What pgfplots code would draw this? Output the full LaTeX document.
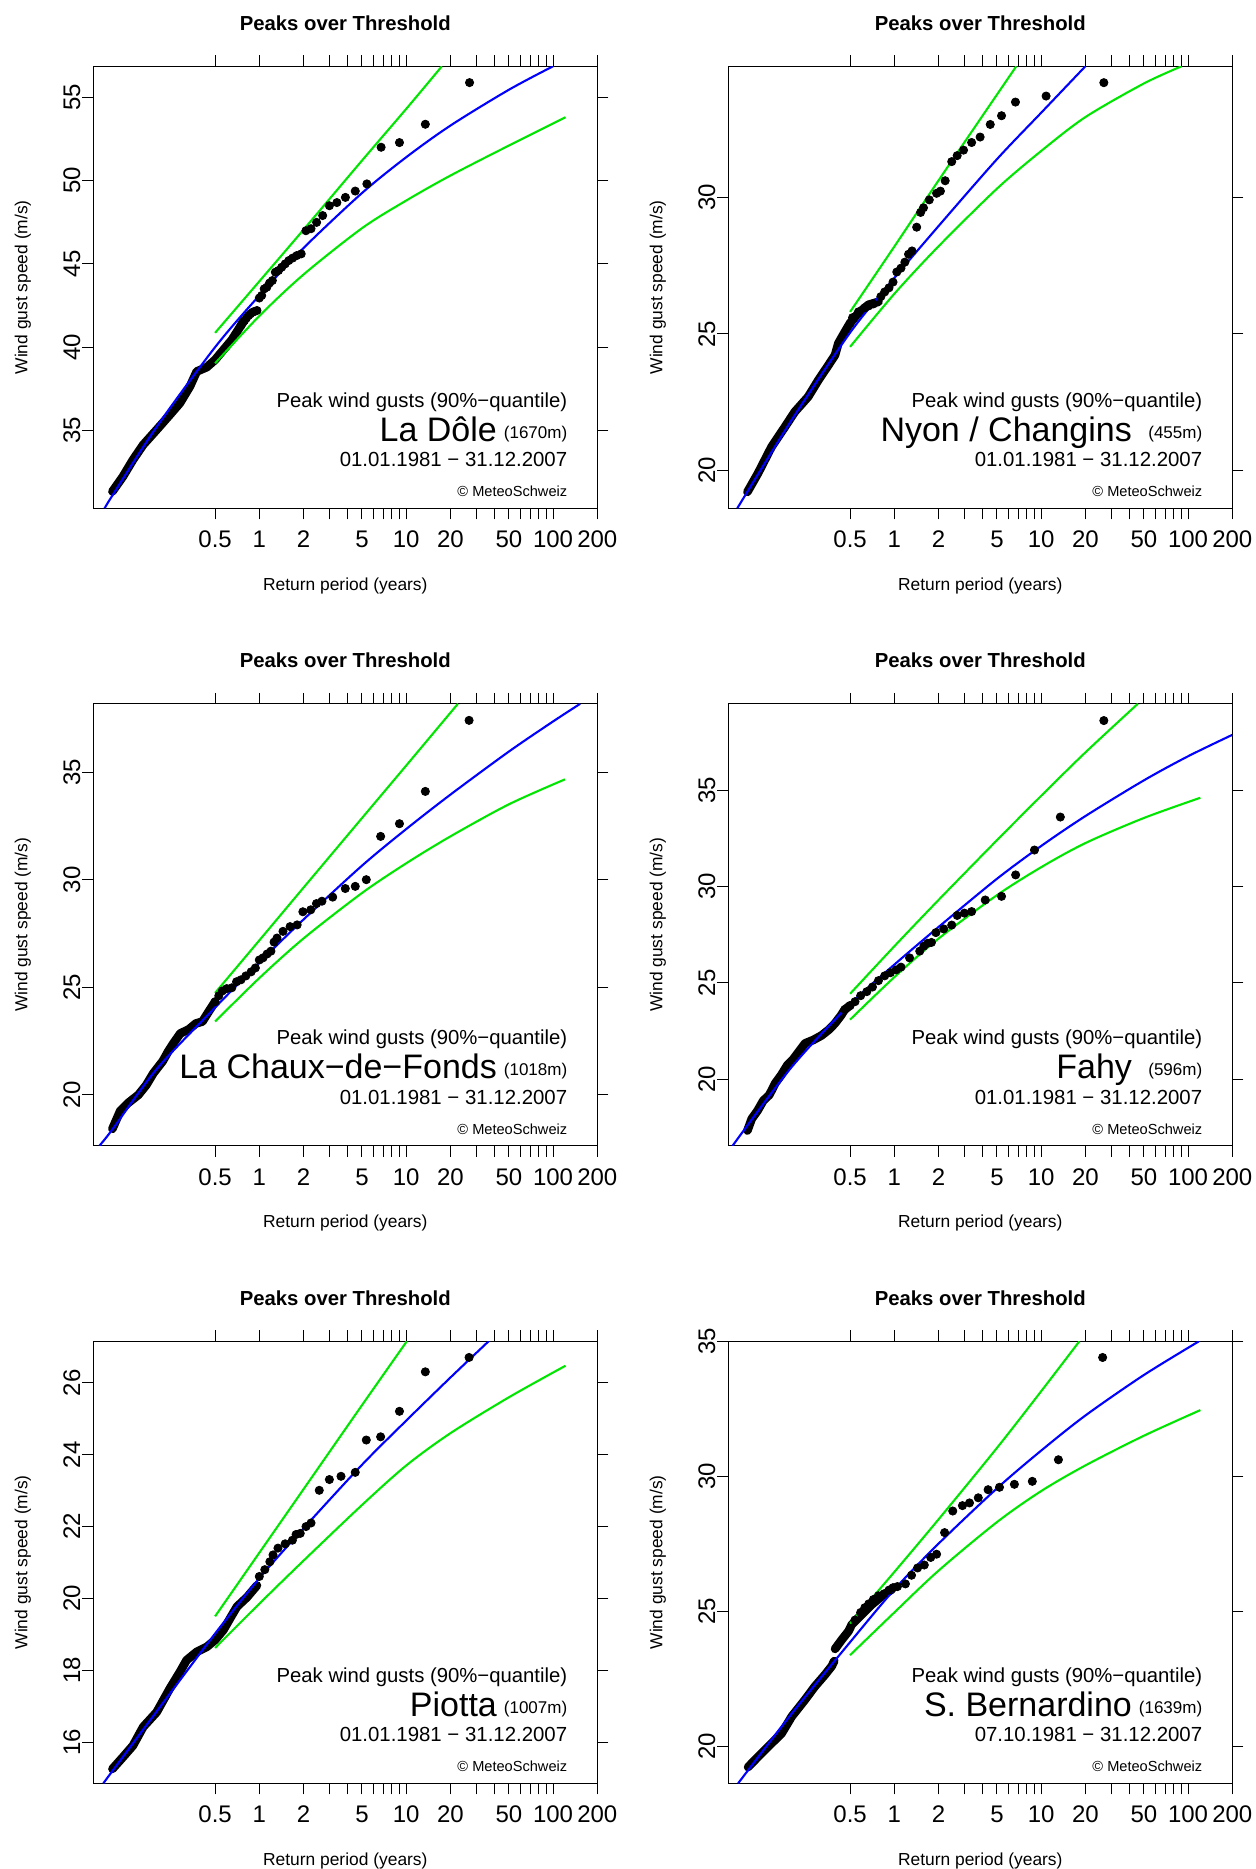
\documentclass[border=0pt]{standalone}
\usepackage{fontspec}
\setmainfont{Liberation Sans}
\usepackage{pgfplots}
\pgfplotsset{compat=1.18}
\definecolor{rgreen}{RGB}{0,230,0}
\pgfplotsset{
 mypot/.style={
  scale only axis, width=252pt, height=221pt,
  xmin=0.0741, xmax=200,
  xtick={0.5,1,2,3,4,5,6,7,8,9,10,20,30,40,50,60,70,80,90,100,200},
  xticklabels={0.5,1,2,{},{},5,{},{},{},{},10,20,{},{},50,{},{},{},{},100,200},
  minor tick length=0pt,
  tick align=outside,
  major tick length=5.5pt,
  tick style={black, line width=0.5pt},
  axis line style={line width=0.6pt},
  xticklabel style={font=\fontsize{12}{14}\selectfont, anchor=base, yshift=-14.2pt},
  yticklabel style={font=\fontsize{12}{14}\selectfont, xshift=-1.05pt, rotate=90, anchor=base},
 },
 myband/.style={black, line width=4.3pt, line cap=round, line join=round, mark=none},
 mypts/.style={only marks, mark=*, mark size=2.05pt, mark options={fill=black, draw=black}},
 myfit/.style={blue, line width=1.05pt, smooth, mark=none},
 myci/.style={rgreen, line width=1.05pt, smooth, mark=none},
}
\newcommand{\annot}[5]{%
 \node[inner sep=0pt, anchor=base, font=\bfseries\fontsize{10.15}{12}\selectfont] at ({#1+126pt},{#2+239pt}) {Peaks over Threshold};
 \node[inner sep=0pt, anchor=base, font=\fontsize{8.7}{10}\selectfont] at ({#1+126pt},{#2-41pt}) {Return period (years)};
 \node[inner sep=0pt, anchor=base, rotate=90, font=\fontsize{8.7}{10}\selectfont] at ({#1-33pt},{#2+110.5pt}) {Wind gust speed (m/s)};
 \node[inner sep=0pt, anchor=base east, font=\fontsize{10.15}{12}\selectfont] at ({#1+237.15pt},{#2+50.5pt}) {Peak wind gusts (90\%−quantile)};
 \node[inner sep=0pt, anchor=base east, font=\fontsize{17}{20}\selectfont] at ({#1+202pt},{#2+33.4pt}) {#3};
 \node[inner sep=0pt, anchor=base east, font=\fontsize{8.5}{10}\selectfont] at ({#1+237.15pt},{#2+35pt}) {#4};
 \node[inner sep=0pt, anchor=base east, font=\fontsize{10.2}{12}\selectfont] at ({#1+237.15pt},{#2+20.75pt}) {#5};
 \node[inner sep=0pt, anchor=base east, font=\fontsize{7.3}{9}\selectfont] at ({#1+237.15pt},{#2+5.8pt}) {© MeteoSchweiz};
}
\begin{document}
\begin{tikzpicture}
\useasboundingbox (0,0) rectangle (627.5pt,934.5pt);
% ---------------- Panel 1: La Dole
\begin{axis}[xmode=log, mypot, at={(46.65pt,680.35pt)}, anchor=south west,
  ymin=30.33, ymax=56.86, ytick={35,40,45,50,55}, yticklabels={35,40,45,50,55}]
\addplot[myband] coordinates {(0.1,31.34) (0.118,32.24) (0.138,33.24) (0.162,34.14) (0.2,35.04) (0.246,35.94) (0.288,36.64) (0.337,37.64) (0.375,38.54) (0.439,38.8) (0.5,39.24) (0.57,39.84) (0.65,40.44) (0.741,41.23) (0.79,41.6)};
\addplot[mypts] coordinates {(27.0,55.88) (13.5,53.38) (9.0,52.28) (6.75,52.0) (5.4,49.8) (4.5,49.37) (3.857,48.99) (3.375,48.68) (3.0,48.49) (2.7,47.9) (2.455,47.49) (2.25,47.11) (2.077,46.99) (1.929,45.6) (1.8,45.5) (1.6875,45.35) (1.588,45.2) (1.5,45.0) (1.421,44.8) (1.35,44.6) (1.286,44.5) (1.227,44.0) (1.174,43.85) (1.125,43.6) (1.08,43.5) (1.038,43.1) (1.0,42.95) (0.964,42.2) (0.931,42.15) (0.9,42.1) (0.871,42.0) (0.844,41.9) (0.818,41.75) (0.794,41.6) (0.771,41.5) (0.75,41.3)};
\addplot[myfit] coordinates {(0.0885,30.33) (0.1,31.1) (0.2,35.22) (0.5,40.0) (1,43.1) (2,45.95) (5,49.25) (10,51.4) (20,53.3) (50,55.45) (100,56.86)};
\addplot[myci] coordinates {(0.5,40.86) (1,43.95) (2,47.05) (5,51.2) (10,54.3) (17.5,56.86)};
\addplot[myci] coordinates {(0.5,39.03) (1,41.87) (2,44.36) (5,47.14) (10,48.8) (20,50.3) (50,52.1) (121.6,53.8)};
\end{axis}
\annot{46.65pt}{680.35pt}{La Dôle}{(1670m)}{01.01.1981 − 31.12.2007}
% ---------------- Panel 2: Nyon
\begin{axis}[xmode=log, mypot, at={(364.15pt,680.35pt)}, anchor=south west,
  ymin=18.62, ymax=34.80, ytick={20,25,30}, yticklabels={20,25,30}]
\addplot[myband] coordinates {(0.1,19.22) (0.118,19.9) (0.146,20.87) (0.18,21.6) (0.21,22.15) (0.259,22.7) (0.304,23.31) (0.356,23.86) (0.395,24.23) (0.416,24.66) (0.462,25.09) (0.5,25.4) (0.57,25.77) (0.667,26.07) (0.781,26.18)};
\addplot[mypts] coordinates {(26.7,34.2) (10.8,33.71) (6.68,33.49) (5.37,32.99) (4.5,32.67) (3.84,32.21) (3.36,32.01) (2.96,31.73) (2.68,31.53) (2.46,31.31) (2.22,30.61) (2.06,30.23) (1.94,30.15) (1.73,29.91) (1.58,29.62) (1.51,29.45) (1.42,28.91) (1.32,28.04) (1.25,27.92) (1.18,27.63) (1.11,27.41) (1.04,27.27) (0.98,26.9) (0.92,26.69) (0.86,26.54) (0.81,26.37) (0.72,26.1) (0.67,26.03) (0.63,25.96) (0.57,25.81) (0.52,25.6) (0.5,25.38)};
\addplot[myfit] coordinates {(0.0853,18.62) (0.2,21.85) (0.5,25.05) (1,27.05) (2,28.95) (5,31.4) (10,33.1) (20,34.8)};
\addplot[myci] coordinates {(0.5,25.81) (1,28.2) (2,30.62) (4,33.0) (6.77,34.8)};
\addplot[myci] coordinates {(0.5,24.53) (1,26.47) (2,28.21) (5,30.32) (10,31.7) (20,32.94) (50,34.17) (90.4,34.8)};
\end{axis}
\annot{364.15pt}{680.35pt}{Nyon / Changins}{(455m)}{01.01.1981 − 31.12.2007}
% ---------------- Panel 3: La Chaux-de-Fonds
\begin{axis}[xmode=log, mypot, at={(46.65pt,361.6pt)}, anchor=south west,
  ymin=17.64, ymax=38.17, ytick={20,25,30,35}, yticklabels={20,25,30,35}]
\addplot[myband] coordinates {(0.1,18.43) (0.113,19.26) (0.128,19.63) (0.15,20.0) (0.17,20.46) (0.19,21.01) (0.22,21.57) (0.24,22.03) (0.26,22.4) (0.29,22.86) (0.33,23.04) (0.37,23.32) (0.41,23.41) (0.452,23.87) (0.5,24.33)};
\addplot[mypts] coordinates {(26.8,37.4) (13.5,34.1) (9.0,32.6) (6.7,32.01) (5.35,30.0) (4.5,29.69) (3.85,29.59) (3.16,29.19) (2.67,29.0) (2.45,28.89) (2.24,28.6) (1.98,28.51) (1.81,27.9) (1.62,27.82) (1.45,27.6) (1.32,27.29) (1.26,27.1) (1.2,26.68) (1.13,26.55) (1.06,26.37) (1.0,26.27) (0.94,25.9) (0.88,25.72) (0.81,25.53) (0.75,25.35) (0.70,25.26) (0.65,24.98) (0.60,24.94) (0.56,24.83) (0.53,24.61) (0.5,24.33)};
\addplot[myfit] coordinates {(0.0815,17.64) (0.1,18.4) (0.2,21.2) (0.5,24.06) (1,26.15) (2,28.15) (5,30.65) (10,32.35) (20,33.95) (50,35.95) (100,37.35) (153,38.17)};
\addplot[myci] coordinates {(0.5,24.74) (1,27.18) (2,29.63) (5,32.86) (10,35.3) (22.5,38.17)};
\addplot[myci] coordinates {(0.5,23.41) (1,25.43) (2,27.27) (5,29.38) (10,30.76) (20,32.01) (50,33.5) (120.5,34.66)};
\end{axis}
\annot{46.65pt}{361.6pt}{La Chaux−de−Fonds}{(1018m)}{01.01.1981 − 31.12.2007}
% ---------------- Panel 4: Fahy
\begin{axis}[xmode=log, mypot, at={(364.15pt,361.6pt)}, anchor=south west,
  ymin=16.56, ymax=39.47, ytick={20,25,30,35}, yticklabels={20,25,30,35}]
\addplot[myband] coordinates {(0.1,17.35) (0.107,17.96) (0.117,18.37) (0.128,18.89) (0.141,19.2) (0.155,19.81) (0.17,20.23) (0.187,20.74) (0.205,21.05) (0.225,21.46) (0.247,21.87) (0.28,22.04) (0.32,22.28) (0.36,22.59) (0.394,22.9) (0.433,23.31) (0.46,23.62) (0.5,23.83)};
\addplot[mypts] coordinates {(26.7,38.6) (13.5,33.6) (9.0,31.89) (6.7,30.6) (5.37,29.49) (4.16,29.3) (3.36,28.7) (3.0,28.62) (2.68,28.5) (2.46,28.0) (2.17,27.8) (1.92,27.61) (1.79,27.1) (1.69,27.06) (1.59,26.91) (1.49,26.65) (1.27,26.3) (1.11,25.82) (1.03,25.68) (0.94,25.53) (0.86,25.37) (0.78,25.12) (0.71,24.79) (0.65,24.55) (0.59,24.34) (0.54,24.03) (0.5,23.83) (0.46,23.62)};
\addplot[myfit] coordinates {(0.0792,16.56) (0.2,20.64) (0.5,23.9) (1,25.95) (2,27.9) (5,30.4) (10,32.1) (20,33.65) (50,35.5) (100,36.75) (200,37.86)};
\addplot[myci] coordinates {(0.5,24.44) (1,26.9) (2,29.3) (5,32.4) (10,34.7) (20,36.95) (45.5,39.47)};
\addplot[myci] coordinates {(0.5,23.1) (1,25.3) (2,27.3) (5,29.55) (10,31.0) (20,32.25) (50,33.55) (121.3,34.6)};
\end{axis}
\annot{364.15pt}{361.6pt}{Fahy}{(596m)}{01.01.1981 − 31.12.2007}
% ---------------- Panel 5: Piotta
\begin{axis}[xmode=log, mypot, at={(46.65pt,42.85pt)}, anchor=south west,
  ymin=14.85, ymax=27.16, ytick={16,18,20,22,24,26}, yticklabels={16,18,20,22,24,26}]
\addplot[myband] coordinates {(0.1,15.25) (0.118,15.58) (0.138,15.9) (0.162,16.42) (0.2,16.83) (0.246,17.49) (0.288,17.95) (0.32,18.28) (0.375,18.51) (0.439,18.65) (0.5,18.84) (0.57,19.12) (0.634,19.45) (0.705,19.77) (0.824,20.03) (0.964,20.36)};
\addplot[mypts] coordinates {(26.8,26.71) (13.5,26.31) (9.0,25.21) (6.7,24.5) (5.35,24.41) (4.5,23.51) (3.6,23.4) (3.0,23.31) (2.56,23.01) (2.25,22.1) (2.08,22.0) (1.9,21.81) (1.78,21.78) (1.68,21.62) (1.5,21.52) (1.34,21.4) (1.24,21.21) (1.18,21.02) (1.09,20.8) (1.0,20.61)};
\addplot[myfit] coordinates {(0.0867,14.85) (0.2,16.85) (0.5,19.02) (1,20.56) (2,21.95) (5,23.72) (10,24.95) (20,26.15) (36.4,27.16)};
\addplot[myci] coordinates {(0.5,19.5) (1,21.27) (2,23.04) (5,25.38) (10.1,27.16)};
\addplot[myci] coordinates {(0.5,18.62) (1,19.85) (2,21.05) (5,22.6) (10,23.7) (20,24.6) (50,25.6) (121.6,26.48)};
\end{axis}
\annot{46.65pt}{42.85pt}{Piotta}{(1007m)}{01.01.1981 − 31.12.2007}
% ---------------- Panel 6: S. Bernardino
\begin{axis}[xmode=log, mypot, at={(364.15pt,42.85pt)}, anchor=south west,
  ymin=18.62, ymax=35.0, ytick={20,25,30,35}, yticklabels={20,25,30,35}]
\addplot[myband] coordinates {(0.101,19.22) (0.118,19.6) (0.138,19.97) (0.171,20.47) (0.2,21.09) (0.246,21.71) (0.288,22.21) (0.337,22.64) (0.375,22.96) (0.39,23.15)};
\addplot[myband] coordinates {(0.395,23.6) (0.439,23.94) (0.487,24.25) (0.513,24.5) (0.601,24.88) (0.705,25.25) (0.824,25.56) (0.964,25.81)};
\addplot[mypts] coordinates {(26.2,34.4) (13.1,30.61) (8.7,29.81) (6.57,29.7) (5.2,29.59) (4.35,29.5) (3.73,29.2) (3.25,29.01) (2.91,28.91) (2.5,28.71) (2.2,27.91) (1.94,27.11) (1.77,26.99) (1.6,26.71) (1.44,26.6) (1.31,26.33) (1.19,26.01) (1.05,25.91) (0.98,25.87) (0.92,25.78) (0.85,25.64) (0.78,25.57) (0.72,25.43) (0.67,25.27) (0.63,25.13) (0.59,24.95) (0.54,24.67)};
\addplot[myfit] coordinates {(0.0865,18.62) (0.2,21.2) (0.5,23.85) (1,25.8) (2,27.5) (5,29.55) (10,30.95) (20,32.25) (50,33.75) (118.6,35.0)};
\addplot[myci] coordinates {(0.5,24.54) (1,26.45) (2,28.4) (5,31.05) (10,33.15) (18.2,35.0)};
\addplot[myci] coordinates {(0.5,23.37) (1,24.95) (2,26.5) (5,28.3) (10,29.45) (20,30.4) (50,31.5) (121.3,32.45)};
\end{axis}
\annot{364.15pt}{42.85pt}{S. Bernardino}{(1639m)}{07.10.1981 − 31.12.2007}
\end{tikzpicture}
\end{document}
